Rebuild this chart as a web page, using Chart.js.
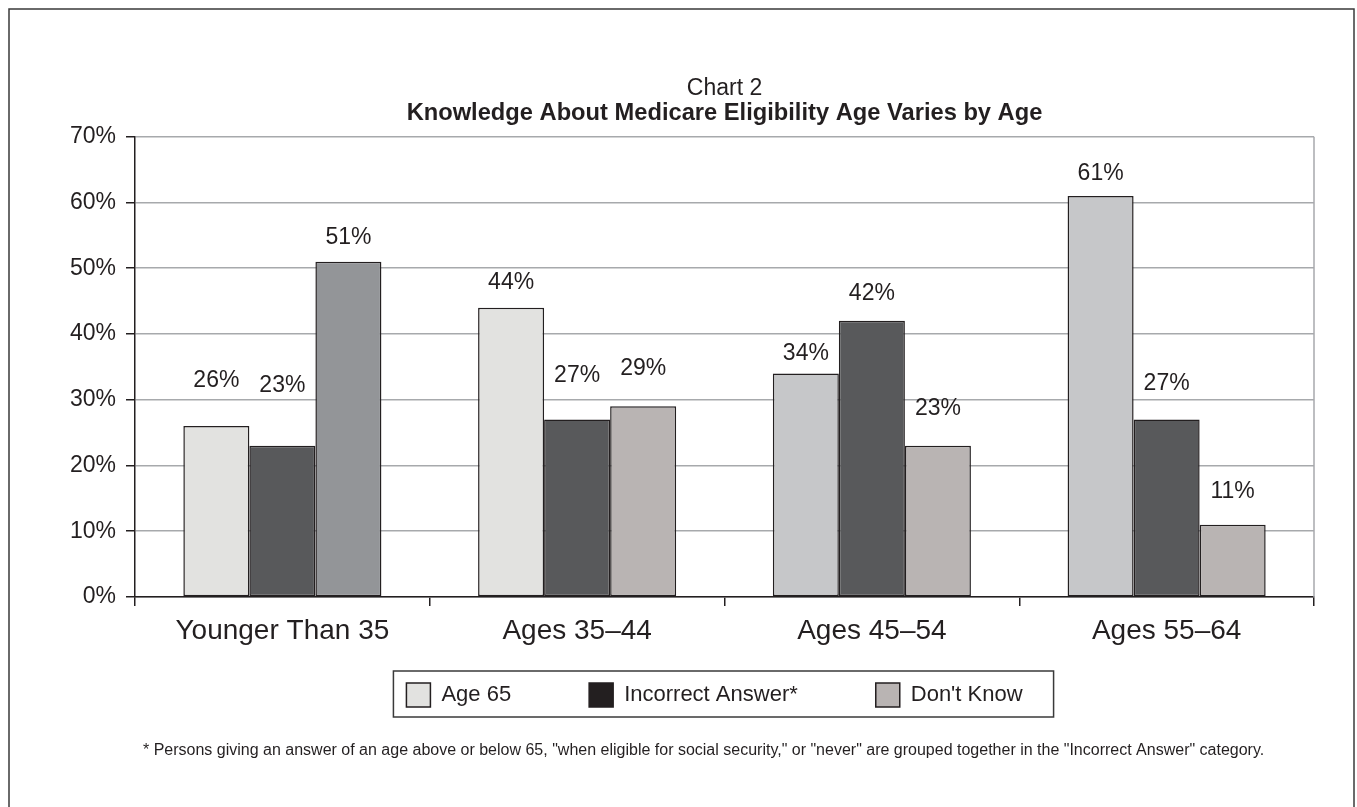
<!DOCTYPE html>
<html>
<head>
<meta charset="utf-8">
<script src="https://cdn.jsdelivr.net/npm/chart.js@4"></script>
<style>
  body { margin: 0; background: #fff; }
  #wrap { width: 1357px; height: 807px; }
</style>
</head>
<body>
<div id="wrap"><canvas id="chart" width="1357" height="807"></canvas></div>
<script>
var categories = ["Younger Than 35", "Ages 35\u201344", "Ages 45\u201354", "Ages 55\u201364"];
var seriesNames = ["Age 65", "Incorrect Answer*", "Don't Know"];
var age65 = [26, 44, 34, 61];
var incorrect = [23, 27, 42, 27];
var dontKnow = [51, 29, 23, 11];
var yTicks = [0, 10, 20, 30, 40, 50, 60, 70];

var footnote =
  '* Persons giving an answer of an age above or below 65, "when eligible for social security," or "never" are grouped together in the "Incorrect Answer" category.';

var ink = "#231f20";
var fontFamily = "'Liberation Sans', Arial, Helvetica, sans-serif";

// legend swatches differ from some bar fills in the original
var legendColors = ["#e2e2e0", "#231f20", "#b9b4b3"];

// how far each value label sits above its bar (px), per series / category
var labelLift = [
  [45, 25, 20, 22],
  [60, 44, 27, 36],
  [24, 38, 37, 33],
];

var framePlugin = {
  id: "frame",
  afterLayout: function (chart) {
    // legend padding is wide (for item gaps), pull it up under the axis labels
    var lg = chart.legend;
    lg.top -= 52;
    lg.bottom -= 52;
    lg.left -= 10;
    lg.right -= 10;
  },
  beforeDraw: function (chart) {
    var ctx = chart.ctx;
    ctx.save();
    ctx.fillStyle = "#fff";
    ctx.fillRect(0, 0, chart.width, chart.height);
    ctx.strokeStyle = "#3a3a3a";
    ctx.lineWidth = 1.5;
    ctx.strokeRect(9, 9, 1345, 810);
    ctx.restore();
  },
  afterDraw: function (chart) {
    var ctx = chart.ctx;
    var area = chart.chartArea;
    ctx.save();
    // right edge of plot
    ctx.strokeStyle = "#a7a9ac";
    ctx.lineWidth = 1.5;
    ctx.beginPath();
    ctx.moveTo(area.right, area.top);
    ctx.lineTo(area.right, area.bottom);
    ctx.stroke();

    // box around legend
    var boxes = chart.legend.legendHitBoxes;
    if (boxes && boxes.length) {
      var first = boxes[0];
      var last = boxes[boxes.length - 1];
      var l = first.left - 13;
      var r = last.left + last.width + 31;
      var t = first.top - 12;
      var b = first.top + first.height + 10;
      ctx.strokeStyle = "#3a3a3a";
      ctx.lineWidth = 1.5;
      ctx.strokeRect(l, t, r - l, b - t);
    }

    // footnote
    ctx.fillStyle = ink;
    ctx.font = "16px " + fontFamily;
    ctx.textAlign = "left";
    ctx.textBaseline = "middle";
    ctx.fillText(footnote, area.left + 8, 751);
    ctx.restore();
  },
};

var valueLabels = {
  id: "valueLabels",
  afterDatasetsDraw: function (chart) {
    var ctx = chart.ctx;
    ctx.save();
    ctx.fillStyle = ink;
    ctx.font = "23px " + fontFamily;
    ctx.textAlign = "center";
    ctx.textBaseline = "middle";
    chart.data.datasets.forEach(function (ds, i) {
      var meta = chart.getDatasetMeta(i);
      meta.data.forEach(function (bar, j) {
        ctx.fillText(ds.data[j] + "%", bar.x, bar.y - labelLift[i][j]);
      });
    });
    ctx.restore();
  },
};

var chart = document.getElementById("chart");

var config = {
  type: "bar",
  data: {
    labels: categories,
    datasets: [
      {
        label: seriesNames[0],
        data: age65,
        backgroundColor: ["#e2e2e0", "#e2e2e0", "#c6c7c9", "#c6c7c9"],
      },
      {
        label: seriesNames[1],
        data: incorrect,
        backgroundColor: "#58595b",
      },
      {
        label: seriesNames[2],
        data: dontKnow,
        backgroundColor: ["#939598", "#b9b4b3", "#b9b4b3", "#b9b4b3"],
      },
    ],
  },
  options: {
    responsive: false,
    animation: false,
    devicePixelRatio: 1,
    datasets: {
      bar: {
        borderColor: ink,
        borderWidth: 1.5,
        borderSkipped: false,
        categoryPercentage: 0.672,
        barPercentage: 1,
      },
    },
    layout: {
      padding: { top: 67.5, left: 10, right: 43, bottom: 38 },
    },
    scales: {
      x: {
        afterFit: function (scale) {
          scale.height = 60;
        },
        grid: {
          display: true,
          offset: true,
          drawOnChartArea: false,
          drawTicks: true,
          tickLength: 9,
          color: ink,
          lineWidth: 1.5,
        },
        border: { color: ink, width: 1.5 },
        ticks: {
          color: ink,
          padding: 8,
          maxRotation: 0,
          font: { family: fontFamily, size: 28 },
        },
      },
      y: {
        min: 0,
        max: 70,
        afterFit: function (scale) {
          scale.width = 125;
        },
        afterBuildTicks: function (scale) {
          scale.ticks = yTicks.map(function (v) {
            return { value: v };
          });
        },
        grid: {
          color: "#a7a9ac",
          lineWidth: 1.5,
          tickColor: ink,
          tickLength: 9,
        },
        border: { color: ink, width: 1.5 },
        ticks: {
          color: ink,
          padding: 10,
          font: { family: fontFamily, size: 23 },
          callback: function (value) {
            return value + "%";
          },
        },
      },
    },
    plugins: {
      title: {
        display: true,
        fullSize: false,
        text: "Chart 2",
        color: ink,
        font: { family: fontFamily, size: 23, weight: "normal", lineHeight: 1 },
        padding: { top: 10, bottom: 1 },
      },
      subtitle: {
        display: true,
        fullSize: false,
        text: "Knowledge About Medicare Eligibility Age Varies by Age",
        color: ink,
        font: { family: fontFamily, size: 23.7, weight: "bold", lineHeight: 1 },
        padding: { top: 0, bottom: 11.5 },
      },
      legend: {
        position: "bottom",
        fullSize: false,
        labels: {
          boxWidth: 24,
          boxHeight: 24,
          padding: 78,
          color: ink,
          font: { family: fontFamily, size: 22 },
          generateLabels: function (c) {
            return c.data.datasets.map(function (ds, i) {
              return {
                text: ds.label,
                fillStyle: legendColors[i],
                strokeStyle: ink,
                lineWidth: 1.5,
                fontColor: ink,
                datasetIndex: i,
                hidden: false,
              };
            });
          },
        },
      },
      tooltip: { enabled: false },
    },
  },
  plugins: [framePlugin, valueLabels],
};

new Chart(chart, config);
</script>
</body>
</html>
